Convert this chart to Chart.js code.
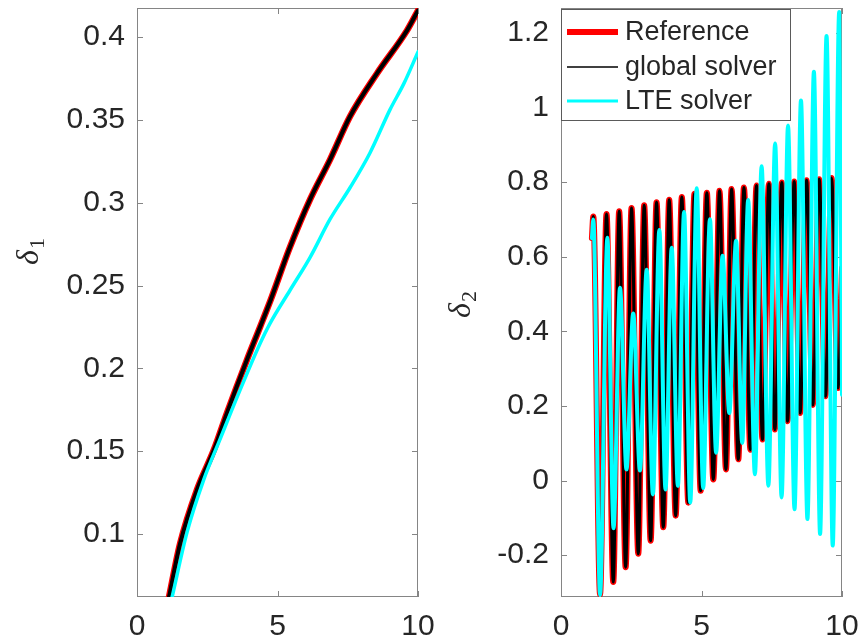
<!DOCTYPE html>
<html>
<head>
<meta charset="utf-8">
<script src="https://cdn.jsdelivr.net/npm/chart.js@4.4.1/dist/chart.umd.min.js"></script>
<style>
    html, body { margin: 0; padding: 0; background: #fff; }
    #wrap { position: relative; width: 867px; height: 640px; }
    canvas { position: absolute; top: 0; }
    #cLeft { left: 0; }
    #cRight { left: 440px; }
</style>
</head>
<body>
<div id="wrap">
    <canvas id="cLeft" width="440" height="640"></canvas>
    <canvas id="cRight" width="427" height="640"></canvas>
</div>
<script>
// ===== Data =====
const X_TICKS = [0, 5, 10];
const D1_TICKS = [0.1, 0.15, 0.2, 0.25, 0.3, 0.35, 0.4];
const D2_TICKS = [-0.2, 0, 0.2, 0.4, 0.6, 0.8, 1, 1.2];

// delta_1, left panel
const d1RefT = [1.14, 1.53, 2.14, 2.74, 3.2, 3.91, 4.38, 4.75, 5.44, 6.16, 6.87, 7.58, 8.54, 9.61, 10];
const d1RefV = [0.062, 0.094, 0.127, 0.151, 0.173, 0.205, 0.225, 0.241, 0.273, 0.302, 0.326, 0.352, 0.378, 0.404, 0.416];
const d1GlobT = d1RefT;   // global solver sits right on the reference
const d1GlobV = d1RefV;
const d1LteT = [1.25, 1.78, 2.38, 2.95, 3.67, 4.38, 4.73, 5.44, 6.16, 6.87, 7.58, 8.29, 9.0, 9.5, 10];
const d1LteV = [0.062, 0.101, 0.133, 0.157, 0.187, 0.215, 0.227, 0.247, 0.267, 0.290, 0.309, 0.330, 0.356, 0.372, 0.391];

// delta_2, right panel: start, then peak / trough alternating, then end value
const d2RefT = [1.10, 1.15, 1.39, 1.62, 1.86, 2.07, 2.30, 2.51, 2.75, 2.96, 3.19, 3.40, 3.64, 3.85, 4.08, 4.30, 4.53, 4.75, 4.97, 5.19, 5.42,
                5.64, 5.87, 6.07, 6.31, 6.51, 6.74, 6.96, 7.17, 7.40, 7.61, 7.86, 8.06, 8.30, 8.51, 8.74, 8.96, 9.19, 9.41, 9.63, 9.86, 10.0];
const d2RefV = [0.65, 0.708, -0.305, 0.715, -0.272, 0.722, -0.232, 0.731, -0.196, 0.738, -0.161, 0.746, -0.125, 0.753, -0.094, 0.760, -0.059, 0.769, -0.027, 0.772, 0.003,
                0.777, 0.030, 0.782, 0.057, 0.786, 0.083, 0.791, 0.110, 0.796, 0.137, 0.799, 0.159, 0.802, 0.181, 0.805, 0.203, 0.808, 0.226, 0.811, 0.248, 0.57];
const d2GlobT = d2RefT;
const d2GlobV = d2RefV;
const d2LteT = [1.10, 1.15, 1.39, 1.65, 1.87, 2.10, 2.33, 2.57, 2.81, 3.05, 3.27, 3.50, 3.72, 3.94, 4.16, 4.38, 4.60, 4.83, 5.06, 5.30, 5.52,
                5.75, 5.99, 6.23, 6.45, 6.66, 6.90, 7.14, 7.38, 7.62, 7.85, 8.08, 8.31, 8.54, 8.77, 9.00, 9.22, 9.45, 9.67, 9.90, 10.0];
const d2LteV = [0.65, 0.70, -0.307, 0.651, -0.128, 0.517, 0.030, 0.448, 0.027, 0.565, -0.037, 0.672, -0.024, 0.624, -0.014, 0.720, -0.059, 0.784, -0.020, 0.701, 0.075,
                0.603, 0.181, 0.643, 0.101, 0.752, 0.017, 0.843, -0.014, 0.904, -0.045, 0.952, -0.077, 1.019, -0.103, 1.096, -0.143, 1.192, -0.174, 1.256, 0.23];

// ===== Styling =====
const TEXT = '#262626';
const AXIS = '#858585';
const TICK_LEN = 6;
const SANS = '"Liberation Sans", Arial, Helvetica, sans-serif';
const SERIF = '"Liberation Serif", "DejaVu Serif", serif';
const RED = '#ff0000', BLACK = '#000000', CYAN = '#00ffff';

const pts = (t, v) => t.map((x, i) => ({ x, y: v[i] }));
const fmtTick = v => String(Math.round(v * 100) / 100);

function line(label, t, v, color, width) {
    return {
        label, data: pts(t, v),
        borderColor: color, backgroundColor: color, borderWidth: width,
        pointRadius: 0, fill: false, clip: 0,
        cubicInterpolationMode: 'monotone',
        borderJoinStyle: 'round', borderCapStyle: 'round'
    };
}

// box + inward ticks on all four sides (matlab style)
const frame = {
    id: 'frame',
    beforeDatasetsDraw(chart) {
        const { ctx, chartArea: a, scales: { x, y } } = chart;
        ctx.save();
        ctx.strokeStyle = AXIS;
        ctx.lineWidth = 1;
        ctx.beginPath();
        x.ticks.forEach(t => {
            const p = Math.round(x.getPixelForValue(t.value)) + 0.5;
            ctx.moveTo(p, a.bottom); ctx.lineTo(p, a.bottom - TICK_LEN);
            ctx.moveTo(p, a.top); ctx.lineTo(p, a.top + TICK_LEN);
        });
        y.ticks.forEach(t => {
            const p = Math.round(y.getPixelForValue(t.value)) + 0.5;
            ctx.moveTo(a.left, p); ctx.lineTo(a.left + TICK_LEN, p);
            ctx.moveTo(a.right, p); ctx.lineTo(a.right - TICK_LEN, p);
        });
        ctx.stroke();
        ctx.strokeRect(Math.round(a.left) + 0.5, Math.round(a.top) + 0.5, Math.round(a.width) - 1, Math.round(a.height) - 1);
        ctx.restore();
    }
};

// rotated italic delta with subscript
function yLabel(sub, cx, cy) {
    return {
        id: 'yLabel',
        afterDraw(chart) {
            const ctx = chart.ctx;
            ctx.save();
            ctx.translate(cx, cy);
            ctx.rotate(-Math.PI / 2);
            ctx.fillStyle = TEXT;
            ctx.textBaseline = 'alphabetic';
            ctx.font = 'italic 32px ' + SERIF;
            const wd = ctx.measureText('δ').width;
            ctx.font = '22px ' + SERIF;
            const ws = ctx.measureText(sub).width;
            const x0 = -(wd + ws) / 2;
            ctx.font = 'italic 32px ' + SERIF;
            ctx.fillText('δ', x0, 10);
            ctx.font = '22px ' + SERIF;
            ctx.fillText(sub, x0 + wd + 1, 16);
            ctx.restore();
        }
    };
}

// legend box inside the right axes
const LEGEND_WIDTHS = [6, 1.5, 3];
const boxLegend = {
    id: 'boxLegend',
    afterDatasetsDraw(chart) {
        const ctx = chart.ctx;
        const a = chart.chartArea;
        const items = chart.data.datasets.slice().reverse();
        const x0 = a.left + 0.5, y0 = 9.5, w = 229, h = 111;
        ctx.save();
        ctx.fillStyle = '#fff';
        ctx.fillRect(x0, y0, w, h);
        ctx.strokeStyle = '#5a5a5a';
        ctx.lineWidth = 1;
        ctx.strokeRect(x0, y0, w, h);
        const rows = [32, 67, 101];
        items.forEach((ds, i) => {
            ctx.strokeStyle = ds.borderColor;
            ctx.lineWidth = LEGEND_WIDTHS[i];
            ctx.beginPath();
            ctx.moveTo(a.left + 6, rows[i]);
            ctx.lineTo(a.left + 57, rows[i]);
            ctx.stroke();
            ctx.fillStyle = TEXT;
            ctx.font = '27px ' + SANS;
            ctx.textBaseline = 'middle';
            ctx.fillText(ds.label, a.left + 64, rows[i] + 1);
        });
        ctx.restore();
    }
};

function makeChart(id, cfg) {
    return new Chart(document.getElementById(id), {
        type: 'line',
        data: { datasets: cfg.datasets },
        options: {
            responsive: false, animation: false, events: [],
            layout: { padding: cfg.padding },
            scales: {
                x: {
                    type: 'linear', min: 0, max: 10,
                    afterBuildTicks: s => { s.ticks = X_TICKS.map(v => ({ value: v })); },
                    afterFit: s => { s.height = 43; s.paddingLeft = 0; s.paddingRight = 0; },
                    grid: { display: false, drawTicks: false }, border: { display: false },
                    ticks: { autoSkip: false, maxRotation: 0, padding: 12, color: TEXT, font: { family: SANS, size: 30 }, callback: fmtTick }
                },
                y: {
                    type: 'linear', min: cfg.yMin, max: cfg.yMax,
                    afterBuildTicks: s => { s.ticks = cfg.yTicks.map(v => ({ value: v })); },
                    afterFit: s => { s.width = cfg.yWidth; s.paddingTop = 0; s.paddingBottom = 0; },
                    grid: { display: false, drawTicks: false }, border: { display: false },
                    ticks: { autoSkip: false, padding: 12, color: TEXT, font: { family: SANS, size: 30 }, callback: fmtTick }
                }
            },
            plugins: { legend: { display: false }, tooltip: { enabled: false } }
        },
        plugins: [frame].concat(cfg.plugins)
    });
}

// ===== 1. delta_1 =====
makeChart('cLeft', {
    padding: { left: 0, right: 22, top: 8, bottom: 0 },
    yMin: 0.062, yMax: 0.4175, yTicks: D1_TICKS, yWidth: 137,
    datasets: [
        line('LTE solver', d1LteT, d1LteV, CYAN, 3.5),
        line('global solver', d1GlobT, d1GlobV, BLACK, 4),
        line('Reference', d1RefT, d1RefV, RED, 6.5)
    ],
    plugins: [yLabel('1', 28, 252)]
});

// ===== 2. delta_2 =====
makeChart('cRight', {
    padding: { left: 0, right: 25, top: 8, bottom: 0 },
    yMin: -0.312, yMax: 1.267, yTicks: D2_TICKS, yWidth: 121,
    datasets: [
        line('LTE solver', d2LteT, d2LteV, CYAN, 4),
        line('global solver', d2GlobT, d2GlobV, BLACK, 3),
        line('Reference', d2RefT, d2RefV, RED, 6)
    ],
    plugins: [yLabel('2', 20, 305), boxLegend]
});
</script>
</body>
</html>
